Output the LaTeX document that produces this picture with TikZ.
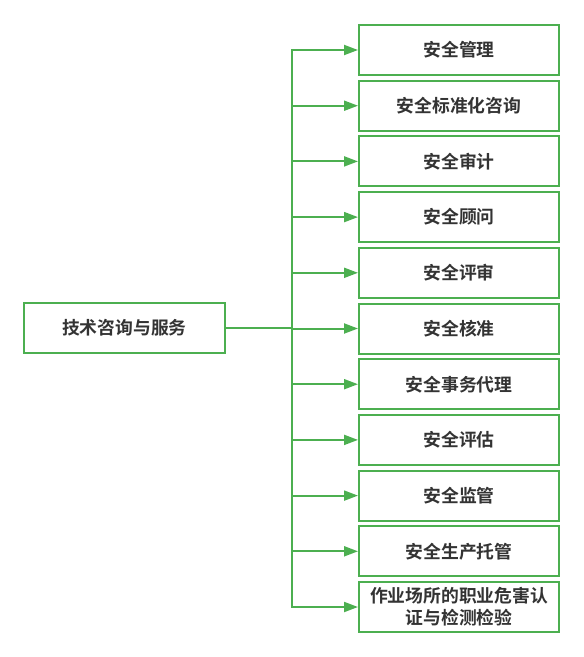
\documentclass[tikz,border=0pt]{standalone}
\usepackage{fontspec}
\setmainfont{Noto Sans CJK SC}[BoldFont={Noto Sans CJK SC Bold}]
\usetikzlibrary{arrows.meta}
\definecolor{lg}{RGB}{76,175,80}
\definecolor{tx}{RGB}{51,51,51}
\begin{document}
\begin{tikzpicture}[x=1pt,y=1pt,
  box/.style={draw=lg,line width=2pt,fill=white,minimum width=200pt,minimum height=50pt,
    inner sep=0pt,align=center,text=tx,font=\fontsize{17.8}{22}\selectfont\bfseries},
  conn/.style={draw=lg,line width=2pt,-{Triangle[length=14pt,width=10pt]}}]
\useasboundingbox (0,0) rectangle (584,-657);
\node[box,minimum width=201pt] (root) at (124.5,-328) {技术咨询与服务};
\coordinate (t) at (292,-328);
\foreach \i/\txt in {0/安全管理,1/安全标准化咨询,2/安全审计,3/安全顾问,4/安全评审,5/安全核准,6/安全事务代理,7/安全评估,8/安全监管,9/安全生产托管,10/{作业场所的职业危害认\\证与检测检验}}{
  \node[box] (c\i) at (459,{-50-55.7*\i}) {\txt};
  \draw[conn] (root.east) -- (t) |- (c\i.west);
}
\end{tikzpicture}
\end{document}
